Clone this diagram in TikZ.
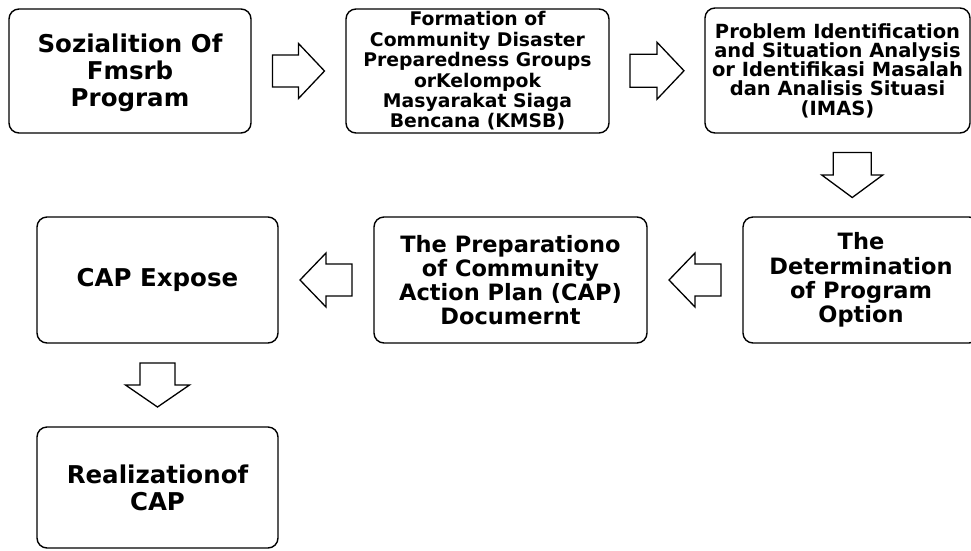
\documentclass[tikz,border=0pt]{standalone}
\usepackage{fontspec}
\setmainfont{DejaVu Sans}
\usetikzlibrary{calc}
\tikzset{
  box/.style={draw, line width=1.4pt, rounded corners=10pt, align=center, inner sep=0pt, font=\bfseries},
  big/.style={font=\fontsize{24.5}{27}\selectfont\bfseries},
  midf/.style={font=\fontsize{22.5}{24.2}\selectfont\bfseries},
  smallf/.style={font=\fontsize{18.8}{20.4}\selectfont\bfseries},
  smallerf/.style={font=\fontsize{19.5}{19.3}\selectfont\bfseries},
  barrowline/.style={draw, line width=1.3pt, line join=miter, fill=white}
}
\newcommand\blockarrow[5]{%
  \draw[barrowline, shift={(#1)}, rotate=#2]
    (-#3,-#4) -- (0,-#4) -- (0,-#5) -- (#3,0) -- (0,#5) -- (0,#4) -- (-#3,#4) -- cycle;}
\begin{document}
\begin{tikzpicture}[x=1pt,y=-1pt]
\useasboundingbox (0,0) rectangle (971,550);
\clip (0,0) rectangle (971,550);
\fill[white] (0,0) rectangle (971,550);

\node[box, big, minimum width=242pt, minimum height=124pt] (p1) at (130,71)
  {\rule{0pt}{22pt}Sozialition Of\\Fmsrb\\Program};
\node[box, smallf, minimum width=263pt, minimum height=124pt] (p2) at (477.5,71)
  {Formation of\\Community Disaster\\Preparedness Groups\\orKelompok\\Masyarakat Siaga\\Bencana (KMSB)};
\node[box, smallerf, minimum width=265pt, minimum height=125pt] (p3) at (837.5,70.5)
  {Problem Identification\\and Situation Analysis\\or Identifikasi Masalah\\dan Analisis Situasi\\(IMAS)};
\node[box, midf, minimum width=236pt, minimum height=126pt] (p4) at (861,280)
  {The\\Determination\\of Program\\Option};
\node[box, midf, minimum width=273pt, minimum height=126pt] (p5) at (510.5,280)
  {The Preparationo\\of Community\\Action Plan (CAP)\\Documernt};
\node[box, big, minimum width=241pt, minimum height=126pt] (p6) at (157.5,280)
  {CAP Expose};
\node[box, big, minimum width=241pt, minimum height=121pt] (p7) at (157.5,487.5)
  {Realizationof\\CAP};

\coordinate (a1) at ($(p1.east)!0.5!(p2.west)$);
\coordinate (a2) at ($(p2.east)!0.5!(p3.west)$);
\coordinate (a3) at ($(p3.south)!0.5!(p4.north)+(3,0)$);
\coordinate (a4) at ($(p4.west)!0.5!(p5.east)$);
\coordinate (a5) at ($(p5.west)!0.5!(p6.east)$);
\coordinate (a6) at ($(p6.south)!0.5!(p7.north)$);

\blockarrow{a1}{0}{26}{16}{27.5}
\blockarrow{a2}{0}{27}{16.5}{28.5}
\blockarrow{a3}{-90}{22.5}{19}{30.5}
\blockarrow{a4}{180}{26}{16}{27}
\blockarrow{a5}{180}{26}{16}{27}
\blockarrow{a6}{-90}{22}{17.5}{32}
\end{tikzpicture}
\end{document}
